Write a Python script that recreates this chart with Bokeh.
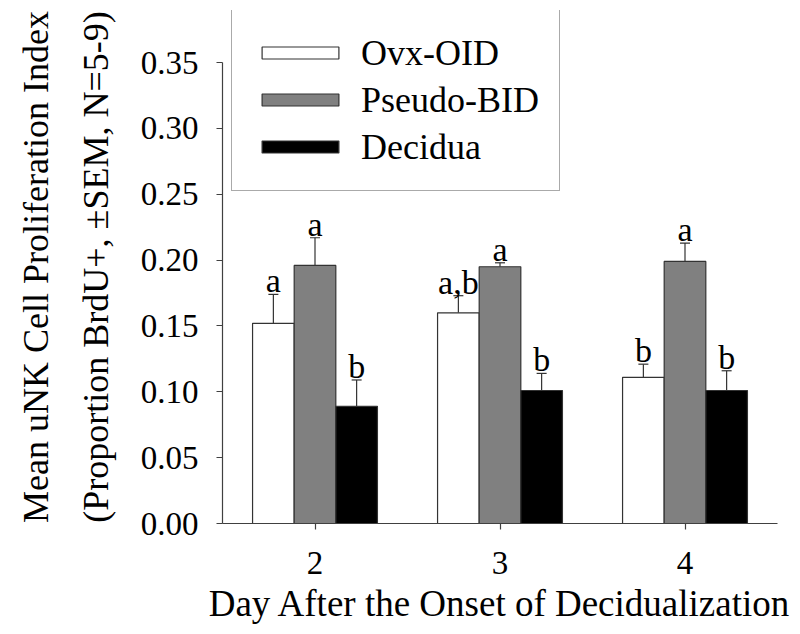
from bokeh.plotting import figure
from bokeh.models import (ColumnDataSource, Legend, LegendItem, Whisker, TeeHead,
                          Range1d, FixedTicker)
from bokeh.core.properties import value
from bokeh.embed import file_html
from bokeh.resources import INLINE

# ---- data ----
days = [2, 3, 4]
day_labels = ["2", "3", "4"]
series_names = ["Ovx-OID", "Pseudo-BID", "Decidua"]
ovx = [0.152, 0.160, 0.111]
ovx_sem = [0.022, 0.013, 0.010]
pseudo = [0.196, 0.195, 0.199]
pseudo_sem = [0.021, 0.003, 0.014]
decidua = [0.089, 0.101, 0.101]
decidua_sem = [0.020, 0.013, 0.015]
ovx_letters = ["a", "a,b", "b"]
pseudo_letters = ["a", "a", "a"]
decidua_letters = ["b", "b", "b"]
y_ticks = [0.00, 0.05, 0.10, 0.15, 0.20, 0.25, 0.30, 0.35]

FONT = "Liberation Serif"
EDGE = "#333333"

p = figure(width=800, height=634, output_backend="svg", toolbar_location=None,
           x_range=Range1d(1.5, 4.5), y_range=Range1d(0, 0.3896),
           min_border_left=222, min_border_right=23, min_border_top=10,
           min_border_bottom=111)
p.outline_line_color = None
p.grid.visible = False
p.background_fill_color = "white"

bar_w = 0.225
offsets = [-bar_w, 0.0, bar_w]
fills = ["white", "#808080", "black"]
vals = [ovx, pseudo, decidua]
sems = [ovx_sem, pseudo_sem, decidua_sem]
letters = [ovx_letters, pseudo_letters, decidua_letters]

renderers = []
for name, v, s, lt, off, fc in zip(series_names, vals, sems, letters, offsets, fills):
    src = ColumnDataSource(dict(
        x=[d + off for d in days],
        top=v,
        upper=[a + b for a, b in zip(v, s)],
        letter=lt,
    ))
    r = p.vbar(x="x", top="top", width=bar_w, bottom=0, source=src,
               fill_color=fc, line_color=EDGE, line_width=1.2)
    renderers.append((name, r))
    w = Whisker(base="x", lower="top", upper="upper", source=src,
                dimension="height", line_color=EDGE, line_width=1.2,
                lower_head=None,
                upper_head=TeeHead(size=10, line_color=EDGE, line_width=1.2))
    p.add_layout(w)
    p.text(x="x", y="upper", text="letter", source=src,
           text_font=value(FONT), text_font_size="34px",
           text_align="center", text_baseline="bottom",
           y_offset=5, text_color="black")

legend = Legend(items=[LegendItem(label=n, renderers=[r]) for n, r in renderers],
                location=(9, 332), orientation="vertical",
                border_line_color="#555555", border_line_width=1.2,
                background_fill_color="white", background_fill_alpha=1.0,
                padding=20, spacing=0, margin=0,
                glyph_width=96, glyph_height=15, label_height=47,
                label_standoff=13,
                label_text_font=FONT, label_text_font_size="36px",
                label_text_baseline="middle", label_text_color="black")
p.add_layout(legend, "center")

# axes
p.xaxis.ticker = FixedTicker(ticks=days)
p.xaxis.major_label_overrides = {d: l for d, l in zip(days, day_labels)}
p.yaxis.ticker = FixedTicker(ticks=y_ticks)
p.yaxis.major_label_overrides = {t: f"{t:.2f}" for t in y_ticks}
p.yaxis.bounds = (0, 0.35)

for ax in (p.xaxis[0], p.yaxis[0]):
    ax.axis_line_color = "#404040"
    ax.axis_line_width = 1.2
    ax.major_tick_line_color = "#404040"
    ax.major_tick_line_width = 1.2
    ax.major_tick_out = 6
    ax.major_tick_in = 0
    ax.minor_tick_out = 0
    ax.minor_tick_in = 0
    ax.major_label_text_font = FONT
    ax.major_label_text_font_size = "33px"
    ax.major_label_text_color = "black"
    ax.axis_label_text_font = FONT
    ax.axis_label_text_font_style = "normal"
    ax.axis_label_text_color = "black"

p.xaxis.major_label_standoff = 22
p.xaxis.axis_label = "Day After the Onset of Decidualization"
p.xaxis.axis_label_text_font_size = "37px"
p.xaxis.axis_label_standoff = 6
p.yaxis.major_label_standoff = 18
p.yaxis.axis_label = "Mean uNK Cell Proliferation Index\n(Proportion BrdU+, \u00b1SEM, N=5-9)"
p.yaxis.axis_label_text_font_size = "36px"
p.yaxis.axis_label_text_line_height = 1.5
p.yaxis.axis_label_standoff = 22

open("out.html", "w").write(file_html(p, INLINE))
